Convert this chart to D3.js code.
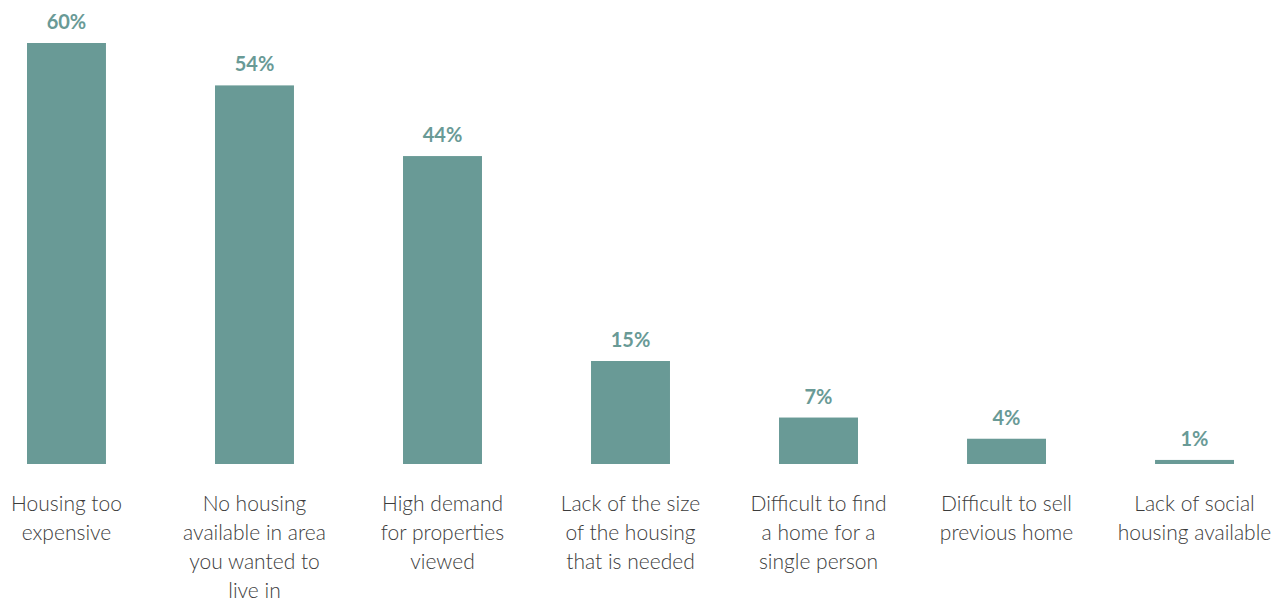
<!DOCTYPE html>
<html>
<head>
<meta charset="utf-8">
<script src="https://cdn.jsdelivr.net/npm/d3@7"></script>
<style>
  html, body { margin: 0; padding: 0; background: #fff; }
  svg { display: block; }
</style>
</head>
<body>
<svg id="chart" width="1286" height="601"></svg>
<script>
// Reasons for difficulty finding a home (% of respondents)
const categories = [
  "Housing too\nexpensive",
  "No housing\navailable in area\nyou wanted to\nlive in",
  "High demand\nfor properties\nviewed",
  "Lack of the size\nof the housing\nthat is needed",
  "Difficult to find\na home for a\nsingle person",
  "Difficult to sell\nprevious home",
  "Lack of social\nhousing available"
];
const values = [60, 54, 44, 15, 7, 4, 1];
const valueLabels = ["60%", "54%", "44%", "15%", "7%", "4%", "1%"];

const barColor = "#699a96";
const textColor = "#3c3c3c";

const svg = d3.select("#chart");
const barBottom = 464;   // bars sit slightly above the scale's zero line
const zeroY = 467;
const plotTop = 43;

const x = d3.scaleBand()
  .domain(categories)
  .range([27, 1234])
  .paddingInner(0.58)
  .paddingOuter(0);

const y = d3.scaleLinear()
  .domain([0, 60])
  .range([zeroY, plotTop]);

// Bars
svg.append("g")
  .selectAll("rect")
  .data(values)
  .join("rect")
  .attr("x", (d, i) => x(categories[i]))
  .attr("width", x.bandwidth())
  .attr("y", d => y(d))
  .attr("height", d => Math.max(0, barBottom - y(d)))
  .attr("fill", barColor);

// Value labels above bars
svg.append("g")
  .selectAll("text")
  .data(values)
  .join("text")
  .attr("x", (d, i) => x(categories[i]) + x.bandwidth() / 2)
  .attr("y", d => y(d) - 14)
  .attr("text-anchor", "middle")
  .attr("font-family", "Lato, sans-serif")
  .attr("font-weight", 700)
  .attr("font-size", 20)
  .attr("fill", barColor)
  .text((d, i) => valueLabels[i]);

// Category axis with wrapped labels
const axis = d3.axisBottom(x).tickSize(0).tickPadding(0);
const gx = svg.append("g")
  .attr("transform", `translate(0,${barBottom})`)
  .call(axis);
gx.select(".domain").remove();
gx.selectAll(".tick text").each(function(d) {
  const t = d3.select(this);
  const lines = d.split("\n");
  t.text(null)
    .attr("y", 0)
    .attr("dy", null)
    .attr("font-family", "Lato, sans-serif")
    .attr("font-weight", 300)
    .attr("font-size", 21)
    .attr("fill", textColor);
  lines.forEach((line, i) => {
    t.append("tspan")
      .attr("x", 0)
      .attr("y", 46.5 + i * 29.3)
      .text(line);
  });
});
</script>
</body>
</html>
